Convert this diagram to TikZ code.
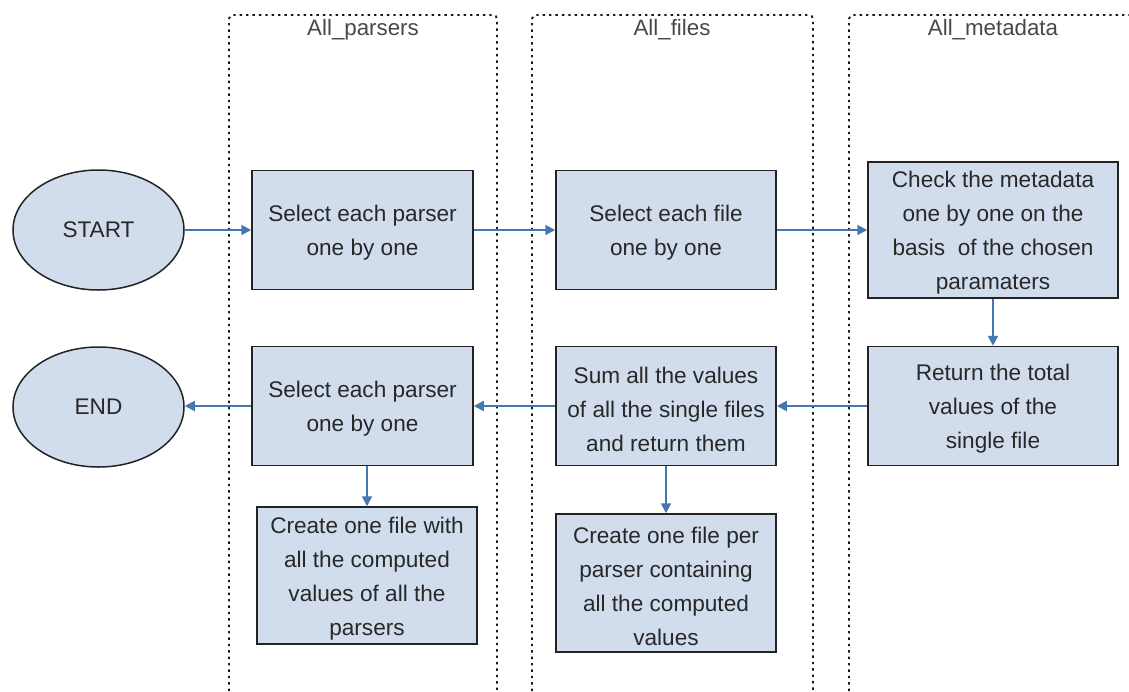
\documentclass[tikz,border=0pt]{standalone}
\usepackage{fontspec}
\setmainfont{Liberation Sans}
\usetikzlibrary{arrows.meta,shapes.geometric}
\definecolor{boxfill}{RGB}{209,221,237}
\definecolor{flow}{RGB}{70,120,176}
\definecolor{ink}{RGB}{40,40,40}
\definecolor{edge}{RGB}{35,35,35}
% taller first line so the text block sits a little lower in its box
\newcommand{\firstline}{\rule{0pt}{22.5pt}}
\begin{document}
\begin{tikzpicture}[x=1pt,y=-1pt,
  lane/.style={draw=black!90, line width=1.9pt, dash pattern=on 2.4pt off 4pt, rounded corners=4pt},
  lanetitle/.style={text=ink!85, font=\fontsize{22.3}{24}\selectfont, anchor=center, inner sep=0pt},
  task/.style={draw=edge, line width=1.5pt, fill=boxfill, text=ink, rectangle, align=center,
    inner sep=0pt, font=\fontsize{22.6}{34}\selectfont},
  term/.style={draw=edge, line width=1.5pt, fill=boxfill, text=ink, ellipse, inner sep=0pt,
    minimum width=171pt, minimum height=120pt, font=\fontsize{22.6}{26}\selectfont},
  flowarrow/.style={draw=flow, line width=1.9pt, -{Triangle[length=10pt,width=10pt]}}
]
\useasboundingbox (0,0) rectangle (1129,691);

% swimlanes (open at the bottom)
\draw[lane] (229,691) -- (229,15) -- (497,15) -- (497,691);
\draw[lane] (532,691) -- (532,15) -- (813,15) -- (813,691);
\draw[lane] (849,691) -- (849,15) -- (1135,15);
\node[lanetitle] (tparsers) at (363,30) {All\_parsers};
\node[lanetitle] (tfiles) at (672,30) {All\_files};
\node[lanetitle] (tmeta) at (993,30) {All\_metadata};

% terminals
\node[term] (start) at (98.5,230) {START};
\node[term] (end) at (98.5,407) {END};

% process steps
\node[task, minimum width=221pt, minimum height=119pt] (selparser) at (362.5,230)
  {\firstline Select each parser\\one by one};
\node[task, minimum width=220pt, minimum height=119pt] (selfile) at (666,230)
  {\firstline Select each file\\one by one};
\node[task, minimum width=250pt, minimum height=136pt] (check) at (993,230)
  {\firstline Check the metadata\\one by one on the\\basis\ \ of the chosen\\paramaters};
\node[task, minimum width=250pt, minimum height=119pt] (total) at (993,406)
  {\firstline Return the total\\values of the\\single file};
\node[task, minimum width=220pt, minimum height=119pt] (sum) at (666,406)
  {\firstline Sum all the values\\of all the single files\\and return them};
\node[task, minimum width=221pt, minimum height=119pt] (selparser2) at (362.5,406)
  {\firstline Select each parser\\one by one};
\node[task, minimum width=220pt, minimum height=137pt] (onefile) at (367,575.5)
  {\firstline Create one file with\\all the computed\\values of all the\\parsers};
\node[task, minimum width=220pt, minimum height=138pt] (perparser) at (666,583)
  {\firstline Create one file per\\parser containing\\all the computed\\values};

% connectors
\draw[flowarrow] (start.east) -- (selparser.west |- start.east);
\draw[flowarrow] (selparser.east) -- (selfile.west);
\draw[flowarrow] (selfile.east) -- (check.west |- selfile.east);
\draw[flowarrow] (check.south) -- (total.north);
\draw[flowarrow] (total.west) -- (sum.east);
\draw[flowarrow] (sum.west) -- (selparser2.east);
\draw[flowarrow] (selparser2.west) -- (end.east |- selparser2.west);
\draw[flowarrow] (selparser2.south -| onefile.north) -- (onefile.north);
\draw[flowarrow] (sum.south) -- (perparser.north);
\end{tikzpicture}
\end{document}
